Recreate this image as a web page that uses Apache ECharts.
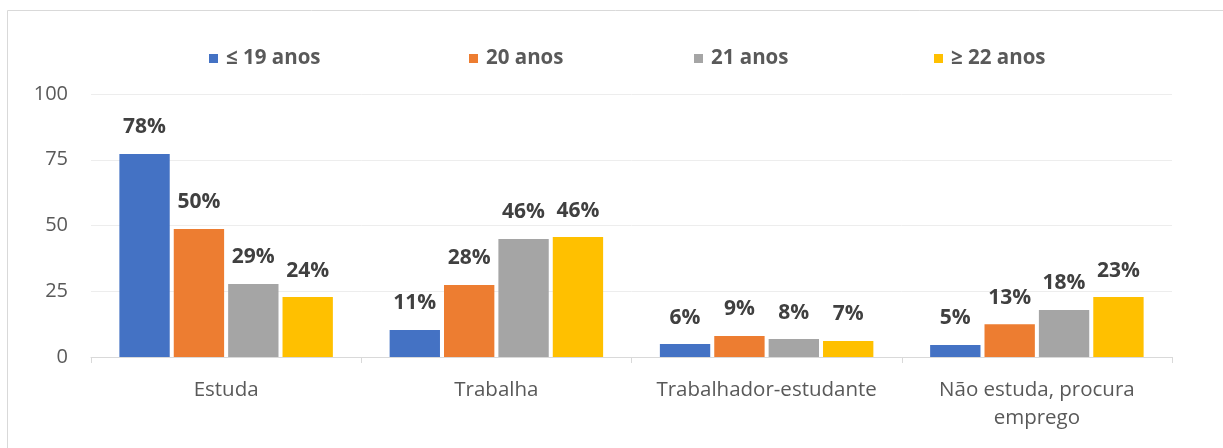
<!DOCTYPE html>
<html>
<head>
<meta charset="utf-8">
<script src="https://cdn.jsdelivr.net/npm/echarts@6/dist/echarts.min.js"></script>
<style>
  html, body { margin: 0; padding: 0; background: #fff; }
  #chart { width: 1223px; height: 448px; }
</style>
</head>
<body>
<div id="chart"></div>
<script>
// categorias e séries
var categorias = ["Estuda", "Trabalha", "Trabalhador-estudante", "Não estuda, procura\nemprego"];
var grupos = ["≤ 19 anos", "20 anos", "21 anos", "≥ 22 anos"];
var cores = ["#4472C4", "#ED7D31", "#A5A5A5", "#FFC000"];

// altura das barras
var ate19 = [77.2, 10.3, 4.9, 4.6];
var anos20 = [48.7, 27.4, 8.0, 12.5];
var anos21 = [27.8, 44.9, 6.8, 17.9];
var desde22 = [22.8, 45.6, 6.1, 22.8];

// rótulos mostrados
var rot19 = ["78%", "11%", "6%", "5%"];
var rot20 = ["50%", "28%", "9%", "13%"];
var rot21 = ["29%", "46%", "8%", "18%"];
var rot22 = ["24%", "46%", "7%", "23%"];

var yTicks = [0, 25, 50, 75, 100];

var valores = [ate19, anos20, anos21, desde22];
var rotulos = [rot19, rot20, rot21, rot22];

var fonte = "'Open Sans', sans-serif";
var myChart = echarts.init(document.getElementById("chart"));

var legendLeft = [204, 464, 689, 929];

var option = {
  animation: false,
  textStyle: { fontFamily: fonte },
  graphic: [{
    type: "rect",
    shape: { x: 7.5, y: 10.5, width: 1400, height: 600 },
    style: { fill: "none", stroke: "#d9d9d9", lineWidth: 1 },
    silent: true
  }],
  legend: grupos.map(function (g, i) {
    return {
      data: [g],
      left: legendLeft[i],
      top: 43,
      itemWidth: 9,
      itemHeight: 9,
      icon: "rect",
      itemGap: 0,
      textStyle: { fontSize: 20.5, fontWeight: "bold", color: "#595959", fontFamily: fonte, padding: [0, 0, 0, 3] }
    };
  }),
  grid: { left: 91, right: 51, top: 94, bottom: 91 },
  xAxis: {
    type: "category",
    data: categorias,
    axisLine: { lineStyle: { color: "#d9d9d9" } },
    axisTick: { show: true, interval: 0, length: 6, lineStyle: { color: "#d9d9d9" } },
    axisLabel: { interval: 0, hideOverlap: false, fontSize: 20.5, color: "#595959", margin: 19, lineHeight: 28, fontFamily: fonte }
  },
  yAxis: {
    type: "value",
    min: 0,
    max: 100,
    interval: 25,
    axisLine: { show: false },
    axisTick: { show: false },
    splitLine: { lineStyle: { color: "#ededed" } },
    axisLabel: {
      fontSize: 20, color: "#595959", margin: 23, fontFamily: fonte,
      formatter: function (v) { return yTicks.indexOf(v) >= 0 ? String(v) : ""; }
    }
  },
  series: grupos.map(function (g, i) {
    return {
      name: g,
      type: "bar",
      data: valores[i],
      barGap: "8%",
      barCategoryGap: "21%",
      itemStyle: { color: cores[i] },
      label: {
        show: true,
        position: "top",
        distance: 16,
        fontSize: 21,
        fontWeight: "bold",
        color: "#404040",
        fontFamily: fonte,
        formatter: function (p) { return rotulos[i][p.dataIndex]; }
      }
    };
  })
};
myChart.setOption(option);
</script>
</body>
</html>
